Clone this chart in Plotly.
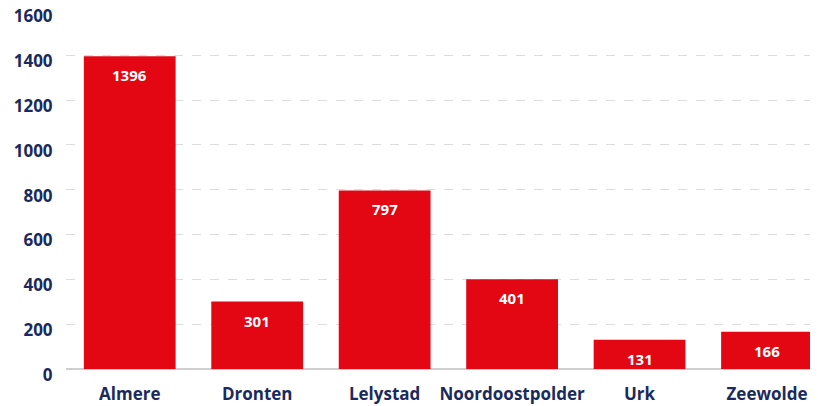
import plotly.graph_objects as go

# Data
gemeenten = ["Almere", "Dronten", "Lelystad", "Noordoostpolder", "Urk", "Zeewolde"]
aantallen = [1396, 301, 797, 401, 131, 166]
y_ticks = [0, 200, 400, 600, 800, 1000, 1200, 1400, 1600]

navy = "#1b2a5c"
red = "#e30613"

fig = go.Figure(go.Bar(
    x=gemeenten,
    y=aantallen,
    marker=dict(color=red, line=dict(width=0)),
    width=0.72,
    hoverinfo="x+y",
))

# value labels just below top of each bar
for g, v in zip(gemeenten, aantallen):
    fig.add_annotation(
        x=g, y=v, text=f"<b>{v}</b>", showarrow=False,
        yanchor="middle", yshift=-19,
        font=dict(family="Open Sans", size=15, color="white"),
    )

# page body has an 8px margin, so the figure is a bit smaller than the window
fig.update_layout(
    width=810, height=398,
    margin=dict(l=58, r=0, t=2, b=37),
    plot_bgcolor="white",
    paper_bgcolor="white",
    showlegend=False,
    font=dict(family="Open Sans", color=navy),
)
fig.update_xaxes(
    range=[-0.5, 5.4],
    automargin=False,
    tickfont=dict(family="Open Sans", size=17, color=navy, weight="bold"),
    showgrid=False,
    showline=False,
    ticks="outside",
    ticklen=10,
    tickcolor="white",
)
fig.update_yaxes(
    range=[0, 1602],
    automargin=False,
    tickvals=y_ticks,
    tickfont=dict(family="Open Sans", size=17, color=navy, weight="bold"),
    ticklabeloverflow="allow",
    ticklabelshift=6,
    showgrid=True,
    gridcolor="#dcdcdc",
    griddash="dash",
    gridwidth=1,
    zeroline=True,
    zerolinecolor="#cfcfcf",
    zerolinewidth=1.5,
    ticks="outside",
    ticklen=9,
    tickcolor="white",
)

fig.write_html("out.html")
